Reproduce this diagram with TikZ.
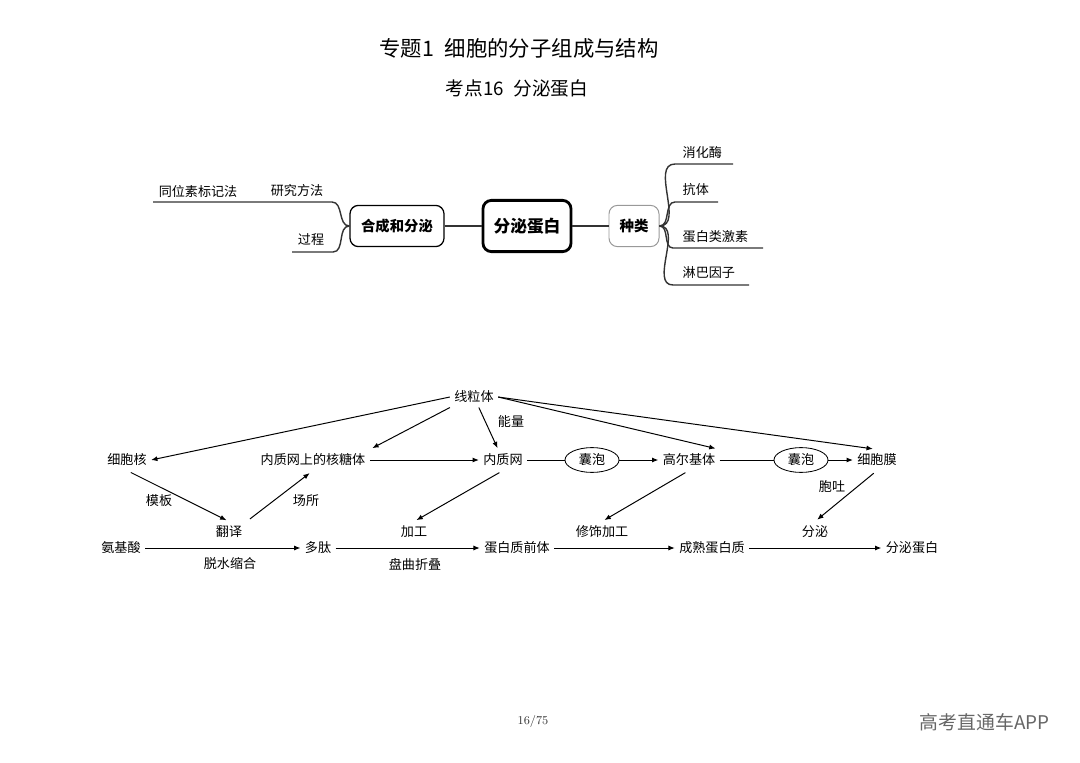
\documentclass[tikz,border=0pt]{standalone}
\usepackage{fontspec}
\usepackage{tikz}
\usetikzlibrary{shapes.geometric,arrows.meta}
\newfontfamily\cjk{Noto Sans CJK SC}

\begin{document}
\begin{tikzpicture}[x=0.025cm,y=-0.025cm,
    every node/.style={font=\cjk\fontsize{9.3}{11}\selectfont,inner sep=1pt},
    mm/.style={line width=1pt,draw=black!80},
    arr/.style={-{Latex[length=4.5pt,width=3.6pt]},line width=0.7pt},
    ln/.style={line width=0.7pt},
    fl/.style={inner sep=3pt},
    pao/.style={ellipse,draw,line width=0.6pt,minimum width=1.35cm,minimum height=0.62cm,inner sep=0pt}]
    \useasboundingbox (0,0) rectangle (1080,763);
    \fill[white] (0,0) rectangle (1080,763);

    \node[font=\cjk\fontsize{15.2}{18}\selectfont] (title) at (519,48) {专题1\enspace 细胞的分子组成与结构};
    \node[font=\cjk\fontsize{13.3}{16}\selectfont] (subtitle) at (517,88) {考点16\enspace 分泌蛋白};

    \node[draw,rounded corners=6pt,line width=2pt,minimum width=2.2cm,minimum height=1.28cm,
    font=\cjk\bfseries\fontsize{11.9}{14}\selectfont] (fmdb) at (527,226) {分泌蛋白};
    \node[draw,rounded corners=6pt,line width=0.9pt,minimum width=2.35cm,minimum height=1.03cm,
    font=\cjk\bfseries\fontsize{10.2}{12}\selectfont] (hcfm) at (397,226) {合成和分泌};
    \node[draw=black!40,rounded corners=6pt,line width=0.7pt,minimum width=1.25cm,minimum height=1.03cm,
    font=\cjk\bfseries\fontsize{10.3}{12}\selectfont] (zl) at (634,226) {种类};
    \draw[mm] (hcfm) -- (fmdb);
    \draw[mm] (fmdb) -- (zl);

    \coordinate (yjff-a) at (332,202);
    \coordinate (yjff-b) at (153,202);
    \coordinate (gc-a) at (333,252);
    \coordinate (gc-b) at (292,252);
    \draw[mm] (hcfm.west) to[out=180,in=0] (yjff-a) -- (yjff-b);
    \draw[mm] (hcfm.west) to[out=180,in=0] (gc-a) -- (gc-b);
    \node (yjff) at (297,191) {研究方法};
    \node (twsbjf) at (198,191) {同位素标记法};
    \node (gc) at (311,240) {过程};

    \coordinate (xhm-a) at (675,164);
    \coordinate (xhm-b) at (733,164);
    \coordinate (kt-a) at (675,202);
    \coordinate (kt-b) at (718,202);
    \coordinate (dbjs-a) at (673,248);
    \coordinate (dbjs-b) at (763,248);
    \coordinate (lbyz-a) at (673,285);
    \coordinate (lbyz-b) at (749,285);
    \draw[mm] (zl.east) to[out=0,in=180] (xhm-a) -- (xhm-b);
    \draw[mm] (zl.east) to[out=0,in=180] (kt-a) -- (kt-b);
    \draw[mm] (zl.east) to[out=0,in=180] (dbjs-a) -- (dbjs-b);
    \draw[mm] (zl.east) to[out=0,in=180] (lbyz-a) -- (lbyz-b);
    \node[anchor=west] (xhm) at (681,153) {消化酶};
    \node[anchor=west] (kt) at (681,190) {抗体};
    \node[anchor=west] (dbjs) at (681,237) {蛋白类激素};
    \node[anchor=west] (lbyz) at (681,273) {淋巴因子};

    \node[fl] (xlt) at (474,397) {线粒体};
    \node[fl] (xbh) at (127,460) {细胞核};
    \node[fl] (hty) at (313,460) {内质网上的核糖体};
    \node[fl] (nzw) at (503,460) {内质网};
    \node[pao] (np1) at (592,460) {囊泡};
    \node[fl] (gej) at (689,460) {高尔基体};
    \node[pao] (np2) at (801,460) {囊泡};
    \node[fl] (xbm) at (877,460) {细胞膜};
    \node[fl] (fy) at (229,532) {翻译};
    \node[fl] (jg) at (414,532) {加工};
    \node[fl] (xsjg) at (602,532) {修饰加工};
    \node[fl] (fm) at (815,532) {分泌};
    \node[fl] (ajs) at (121,548) {氨基酸};
    \node[fl] (dt) at (318,548) {多肽};
    \node[fl] (dbzqt) at (517,548) {蛋白质前体};
    \node[fl] (csdbz) at (712,548) {成熟蛋白质};
    \node[fl] (fmdb2) at (912,548) {分泌蛋白};

    \node (nl) at (511,422) {能量};
    \node (mb) at (159,501) {模板};
    \node (cs) at (306,501) {场所};
    \node (tt) at (832,487) {胞吐};
    \node (tssh) at (230,564) {脱水缩合};
    \node (pqzd) at (415,564) {盘曲折叠};

    \draw[arr] (xlt.west) -- (xbh.east);
    \draw[arr,shorten >=2pt] (xlt.south west) -- (hty.north east);
    \draw[arr,shorten >=1pt] (xlt) -- (nzw);
    \draw[arr,shorten >=3pt] (xlt.east) -- (gej.north east);
    \draw[arr,shorten >=3pt] (xlt.east) -- (xbm.north);

    \draw[arr] (hty) -- (nzw);
    \draw[ln] (nzw) -- (np1);
    \draw[arr] (np1) -- (gej);
    \draw[ln] (gej) -- (np2);
    \draw[arr] (np2) -- (xbm);

    \draw[arr,shorten <=3pt,shorten >=2pt] (xbh.south) -- (fy.north);
    \draw[arr,shorten <=3pt,shorten >=3pt] (fy.north east) -- (hty.south);
    \draw[arr,shorten <=3pt,shorten >=2pt] (nzw.south) -- (jg.north);
    \draw[arr,shorten <=3pt,shorten >=2pt] (gej.south) -- (xsjg.north);
    \draw[arr,shorten <=3pt,shorten >=2pt] (xbm.south) -- (fm.north);

    \draw[arr] (ajs) -- (dt);
    \draw[arr] (dt) -- (dbzqt);
    \draw[arr] (dbzqt) -- (csdbz);
    \draw[arr] (csdbz) -- (fmdb2);

    \node[font=\fontsize{8.5}{10}\selectfont,text=black!80] (page) at (533,722) {16/75};
    \node[font=\cjk\fontsize{13.4}{16}\selectfont,text=black!60,anchor=east] (wm) at (1051,722) {高考直通车APP};
\end{tikzpicture}
\end{document}
